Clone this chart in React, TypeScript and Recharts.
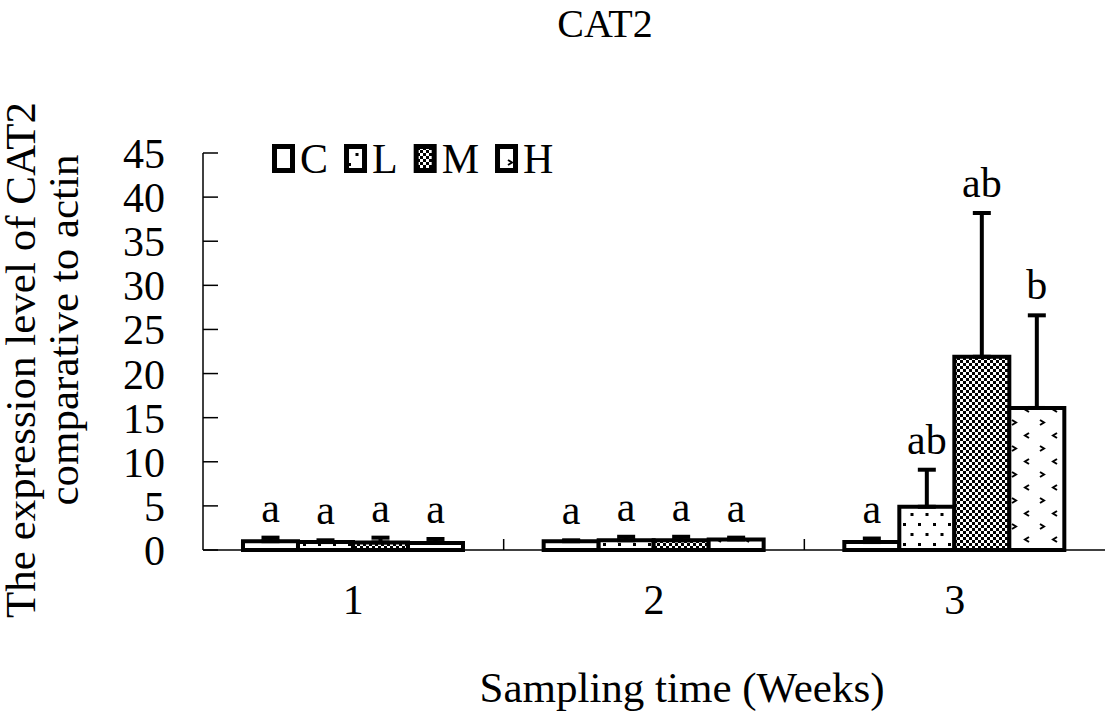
import { BarChart, Bar, XAxis, YAxis, ErrorBar, LabelList } from 'recharts'

const weeks = ['1', '2', '3']
const treatments = ['C', 'L', 'M', 'H']

// bar heights (means) per week
const cMean = [1.0, 1.0, 0.9]
const lMean = [0.9, 1.1, 4.9]
const mMean = [0.85, 1.1, 21.9]
const hMean = [0.8, 1.2, 16.1]

// top of the error bar per week
const cTop = [1.4, 1.1, 1.3]
const lTop = [1.1, 1.5, 9.1]
const mTop = [1.4, 1.5, 38.2]
const hTop = [1.25, 1.4, 26.6]

// significance letters
const cLetters = ['a', 'a', 'a']
const lLetters = ['a', 'a', 'ab']
const mLetters = ['a', 'a', 'ab']
const hLetters = ['a', 'a', 'b']

const yTicks = [0, 5, 10, 15, 20, 25, 30, 35, 40, 45]

const FONT = '"Liberation Serif", "Times New Roman", serif'

const series = [
  { key: 'C', mean: cMean, top: cTop, letters: cLetters, fill: 'url(#patC)' },
  { key: 'L', mean: lMean, top: lTop, letters: lLetters, fill: 'url(#patL)' },
  { key: 'M', mean: mMean, top: mTop, letters: mLetters, fill: 'url(#patM)' },
  { key: 'H', mean: hMean, top: hTop, letters: hLetters, fill: 'url(#patH)' },
]

const rows = weeks.map((week, i) => {
  const row: Record<string, any> = { week }
  for (const s of series) {
    row[s.key] = s.mean[i]
    row[s.key + 'Err'] = [0, Math.max(0, s.top[i] - s.mean[i])]
    row[s.key + 'Lab'] = s.letters[i]
  }
  return row
})

const glyphW: Record<string, number> = { C: 0.667, L: 0.611, M: 0.889, H: 0.722 }

function YTick(props: any) {
  const { x, y, payload } = props
  return (
    <text x={x} y={y + 15} textAnchor="end" fontSize={42} fontFamily={FONT} fill="#000">
      {payload.value}
    </text>
  )
}

function WeekTick(props: any) {
  const { x, y, payload } = props
  const off = payload.offset ?? 0
  return (
    <g>
      {payload.index > 0 && (
        <line x1={x - off} x2={x - off} y1={y} y2={y - 11} stroke="#000" strokeWidth={1.5} />
      )}
      <text x={x} y={y + 64} textAnchor="middle" fontSize={42} fontFamily={FONT} fill="#000">
        {payload.value}
      </text>
    </g>
  )
}

function letterLabel(s: (typeof series)[number]) {
  return (props: any) => {
    const vb = props.viewBox ?? props
    const x = props.x ?? vb.x
    const y = props.y ?? vb.y
    const width = props.width ?? vb.width
    const height = props.height ?? vb.height
    const i = props.index
    const v = s.mean[i]
    const bottom = y + height
    const perUnit = height / v
    const topPx = bottom - s.top[i] * perUnit
    return (
      <text x={x + width / 2} y={topPx - 16} textAnchor="middle" fontSize={42} fontFamily={FONT} fill="#000">
        {props.value}
      </text>
    )
  }
}

function Legend() {
  let cx = 272
  return (
    <g>
      {treatments.map((t, i) => {
        const sx = cx
        const tw = glyphW[t] * 42
        cx += 22 + 6 + tw + 16
        return (
          <g key={t}>
            <rect x={sx + 2.5} y={146.5} width={18} height={24} fill={series[i].fill} stroke="#000" strokeWidth={5} />
            <text x={sx + 28} y={173} fontSize={42} fontFamily={FONT} fill="#000">{t}</text>
          </g>
        )
      })}
    </g>
  )
}

export default function App() {
  return (
    <div style={{ position: 'absolute', left: 0, top: 0, width: 1108, height: 717, background: '#fff' }}>
      <BarChart
        width={1108}
        height={717}
        data={rows}
        margin={{ top: 153, right: 3, left: 0, bottom: 0 }}
        barCategoryGap="13.3%"
        barGap={0}
      >
        <defs>
          <pattern id="patC" patternUnits="userSpaceOnUse" width={10} height={10}>
            <rect width={10} height={10} fill="#fff" />
          </pattern>
          <pattern id="patL" patternUnits="userSpaceOnUse" width={15} height={20}>
            <rect width={15} height={20} fill="#fff" />
            <rect x={3} y={3} width={3} height={3} fill="#000" />
            <rect x={10.5} y={13} width={3} height={3} fill="#000" />
          </pattern>
          <pattern id="patM" patternUnits="userSpaceOnUse" width={6} height={6}>
            <rect width={6} height={6} fill="#fff" />
            <rect x={0} y={0} width={3} height={3} fill="#000" />
            <rect x={3} y={3} width={3} height={3} fill="#000" />
          </pattern>
          <pattern id="patH" patternUnits="userSpaceOnUse" width={28} height={26}>
            <rect width={28} height={26} fill="#fff" />
            <path d="M4,4 L8,6.5 L4,9" stroke="#000" strokeWidth={2} fill="none" />
            <path d="M21,17 L17,19.5 L21,22" stroke="#000" strokeWidth={2} fill="none" />
          </pattern>
        </defs>
        <XAxis
          dataKey="week"
          height={167}
          axisLine={{ stroke: '#000', strokeWidth: 1.5 }}
          tickLine={false}
          tickSize={0}
          tickMargin={0}
          tick={<WeekTick />}
        />
        <YAxis
          type="number"
          domain={[0, 45]}
          ticks={yTicks}
          width={203}
          interval={0}
          axisLine={{ stroke: '#000', strokeWidth: 1.5 }}
          tickLine={{ stroke: '#000', strokeWidth: 1.5 }}
          tickSize={-15}
          tickMargin={53}
          tick={<YTick />}
        />
        {series.map(s => (
          <Bar key={s.key} dataKey={s.key} fill={s.fill} stroke="#000" strokeWidth={4} isAnimationActive={false}>
            <ErrorBar dataKey={s.key + 'Err'} direction="y" width={9} stroke="#000" strokeWidth={4} />
            <LabelList dataKey={s.key + 'Lab'} content={letterLabel(s)} />
          </Bar>
        ))}
        <Legend />
        <text x={605} y={37} textAnchor="middle" fontSize={40} fontFamily={FONT} fill="#000">CAT2</text>
        <text x={682} y={702} textAnchor="middle" fontSize={43} fontFamily={FONT} fill="#000">
          Sampling time (Weeks)
        </text>
        <text transform="translate(35,360) rotate(-90)" textAnchor="middle" fontSize={43} fontFamily={FONT} fill="#000">
          The expression level of CAT2
        </text>
        <text transform="translate(78,330) rotate(-90)" textAnchor="middle" fontSize={43} fontFamily={FONT} fill="#000">
          comparative to actin
        </text>
      </BarChart>
    </div>
  )
}
